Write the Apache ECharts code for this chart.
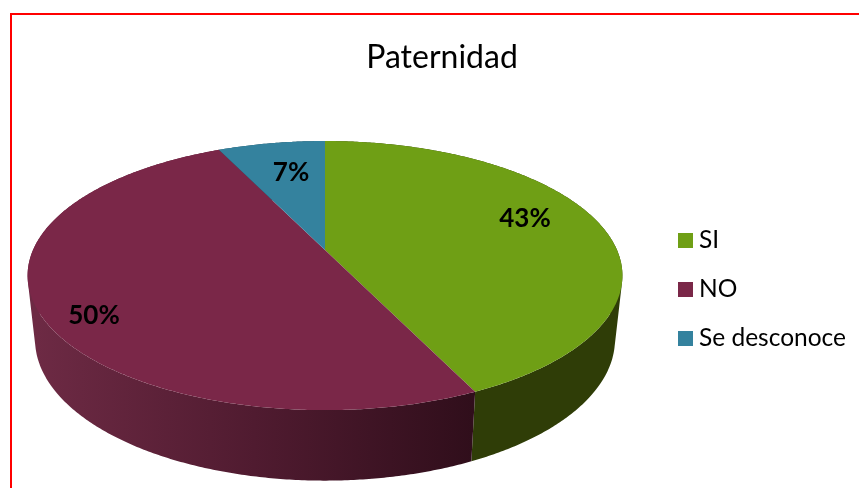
<!DOCTYPE html>
<html><head><meta charset="utf-8">
<style>html,body{margin:0;padding:0;background:#fff}#c{width:859px;height:488px}</style>
<script src="https://cdn.jsdelivr.net/npm/echarts@6/dist/echarts.min.js"></script>
</head><body><div id="c"></div>
<script>
const categories = ['SI', 'NO', 'Se desconoce'];
const values = [43, 50, 7];
const topColors = ['#6f9f15', '#7a2748', '#34829e'];
const titleText = 'Paternidad';

// Perspective of the disc: a projective map of the unit circle
const view = { cx: 325, cy: 250, a: 129.7, b: -0.19, c: 292 };
const rim = { sx: 0.975, sy: 1.05, drop: 62.5 };
const labelPlace = [[525, 219], [94, 315.5], [291, 173]];
const FONT = 'Lato, "Open Sans", sans-serif';

function project(deg) {
  const t = deg * Math.PI / 180, u = Math.sin(t), v = -Math.cos(t);
  const d = 1 + view.b * v;
  return [view.c * u / d, view.a * v / d];
}
function topPoint(deg) { const p = project(deg); return [view.cx + p[0], view.cy + p[1]]; }
function bottomPoint(deg) { const p = project(deg); return [view.cx + p[0] * rim.sx, view.cy + rim.drop + p[1] * rim.sy]; }
function arc(fn, from, to) { const pts = []; const n = Math.ceil((to - from) * 2); for (let i = 0; i <= n; i++) pts.push(fn(from + (to - from) * i / n)); return pts; }

// Side wall: one path made of a quad per step, so the silhouette tangents are filled without seams
echarts.graphic.registerShape('rimWall', echarts.graphic.extendShape({
  shape: { upper: [], lower: [] },
  buildPath(ctx, shape) {
    for (let i = 0; i + 1 < shape.upper.length; i++) {
      const a = shape.upper[i], b = shape.upper[i + 1], c = shape.lower[i + 1], d = shape.lower[i];
      const cross = (b[0] - a[0]) * (d[1] - a[1]) - (b[1] - a[1]) * (d[0] - a[0]);
      const q = cross >= 0 ? [a, b, c, d] : [d, c, b, a];
      ctx.moveTo(q[0][0], q[0][1]);
      ctx.lineTo(q[1][0], q[1][1]);
      ctx.lineTo(q[2][0], q[2][1]);
      ctx.lineTo(q[3][0], q[3][1]);
      ctx.closePath();
    }
  }
}));

const total = values.reduce((s, v) => s + v, 0);
const sideFills = [
  '#2f3d07',
  new echarts.graphic.LinearGradient(36, 0, 473, 0, [
    { offset: 0, color: '#6d2a44' }, { offset: 0.5, color: '#501b30' }, { offset: 1, color: '#300e1b' }
  ], true),
  '#1c4757'
];

const series = categories.map((name, i) => {
  const startDeg = values.slice(0, i).reduce((s, v) => s + v, 0) / total * 360;
  return {
    type: 'custom', name, coordinateSystem: 'none', silent: true,
    itemStyle: { color: topColors[i] },
    data: [values[i]],
    renderItem(params, api) {
      const sweep = api.value(0) / total * 360, endDeg = startDeg + sweep;
      const topArc = arc(topPoint, startDeg, endDeg);
      return { type: 'group', children: [
        { type: 'rimWall', z2: 1, shape: { upper: topArc, lower: arc(bottomPoint, startDeg, endDeg) }, style: { fill: sideFills[i] } },
        { type: 'polygon', z2: 10, shape: { points: topArc.concat([[view.cx, view.cy]]) }, style: { fill: topColors[i] } },
        { type: 'text', z2: 20, style: { x: labelPlace[i][0], y: labelPlace[i][1], text: api.value(0) + '%', align: 'center', verticalAlign: 'middle', fill: '#000', font: 'bold 26px ' + FONT } }
      ] };
    }
  };
});

const chart = echarts.init(document.getElementById('c'), null, { renderer: 'canvas' });
chart.setOption({
  animation: false,
  backgroundColor: '#fff',
  title: { text: titleText, left: 437, top: 37, textAlign: 'center', textStyle: { fontFamily: FONT, fontSize: 32, fontWeight: 'normal', color: '#000' } },
  legend: { orient: 'vertical', left: 678, top: 228, padding: 0, itemWidth: 15, itemHeight: 15, itemGap: 24, icon: 'rect', selectedMode: false,
    data: categories, textStyle: { fontFamily: FONT, fontSize: 24.5, color: '#000', padding: [0, 0, 0, 1] } },
  graphic: [{ type: 'rect', z: -1, shape: { x: 11, y: 14, width: 880, height: 500 }, style: { fill: 'none', stroke: '#ff0000', lineWidth: 2 } }],
  series
});
</script></body></html>
